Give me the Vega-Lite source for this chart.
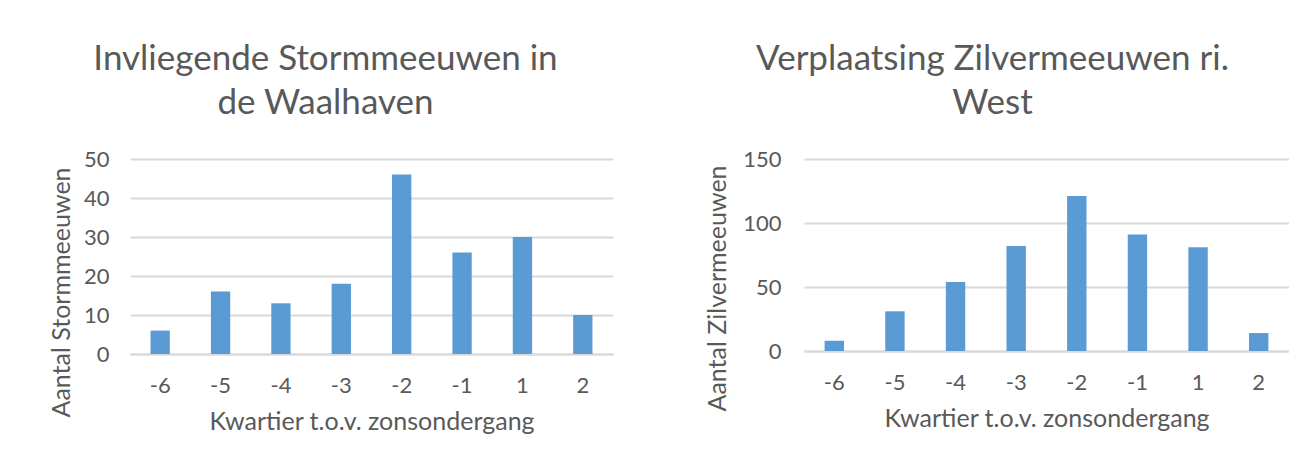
{
  "$schema": "https://vega.github.io/schema/vega-lite/v6.json",
  "padding": {"left": 48, "top": 42, "right": 0, "bottom": 0},
  "background": "white",
  "spacing": 91,
  "config": {
    "font": "Lato",
    "view": {"stroke": null},
    "title": {"font": "Lato", "fontSize": 35, "fontWeight": "normal", "color": "#595959", "lineHeight": 44, "anchor": "middle"},
    "axis": {
      "labelFont": "Lato", "titleFont": "Lato",
      "labelColor": "#595959", "titleColor": "#595959",
      "labelFontSize": 22, "titleFontSize": 25, "titleFontWeight": "normal",
      "ticks": false, "tickSize": 0,
      "gridColor": "#d9d9d9", "gridWidth": 2,
      "domainColor": "#d9d9d9", "domainWidth": 2
    }
  },
  "hconcat": [
    {
      "title": {"text": ["Invliegende Stormmeeuwen in", "de Waalhaven"], "dx": -46, "offset": 27},
      "width": 483,
      "height": 195,
      "data": {"values": [
        {"k": "-6", "n": 6}, {"k": "-5", "n": 16}, {"k": "-4", "n": 13}, {"k": "-3", "n": 18},
        {"k": "-2", "n": 46}, {"k": "-1", "n": 26}, {"k": "1", "n": 30}, {"k": "2", "n": 10}
      ]},
      "mark": {"type": "bar", "color": "#5b9bd5"},
      "encoding": {
        "x": {"field": "k", "type": "ordinal", "sort": null,
              "scale": {"paddingInner": 0.68, "paddingOuter": 0.34},
              "axis": {"title": "Kwartier t.o.v. zonsondergang", "labelAngle": 0, "labelPadding": 21, "titlePadding": 13, "domain": true, "grid": false}},
        "y": {"field": "n", "type": "quantitative",
              "scale": {"domain": [0, 50]},
              "axis": {"title": "Aantal Stormmeeuwen", "values": [0, 10, 20, 30, 40, 50], "domain": false, "labelPadding": 21,
                       "titleX": -69, "titleY": 133, "titleAlign": "center", "titleBaseline": "middle", "titleAngle": -90}}
      }
    },
    {
      "title": {"text": ["Verplaatsing Zilvermeeuwen ri.", "West"], "dx": -54, "offset": 27},
      "width": 485,
      "height": 192,
      "data": {"values": [
        {"k": "-6", "n": 8}, {"k": "-5", "n": 31}, {"k": "-4", "n": 54}, {"k": "-3", "n": 82},
        {"k": "-2", "n": 121}, {"k": "-1", "n": 91}, {"k": "1", "n": 81}, {"k": "2", "n": 14}
      ]},
      "mark": {"type": "bar", "color": "#5b9bd5"},
      "encoding": {
        "x": {"field": "k", "type": "ordinal", "sort": null,
              "scale": {"paddingInner": 0.68, "paddingOuter": 0.34},
              "axis": {"title": "Kwartier t.o.v. zonsondergang", "labelAngle": 0, "labelPadding": 21, "titlePadding": 13, "domain": true, "grid": false}},
        "y": {"field": "n", "type": "quantitative",
              "scale": {"domain": [0, 150]},
              "axis": {"title": "Aantal Zilvermeeuwen", "values": [0, 50, 100, 150], "domain": false, "labelPadding": 23,
                       "titleX": -87, "titleY": 129, "titleAlign": "center", "titleBaseline": "middle", "titleAngle": -90}}
      }
    }
  ]
}
